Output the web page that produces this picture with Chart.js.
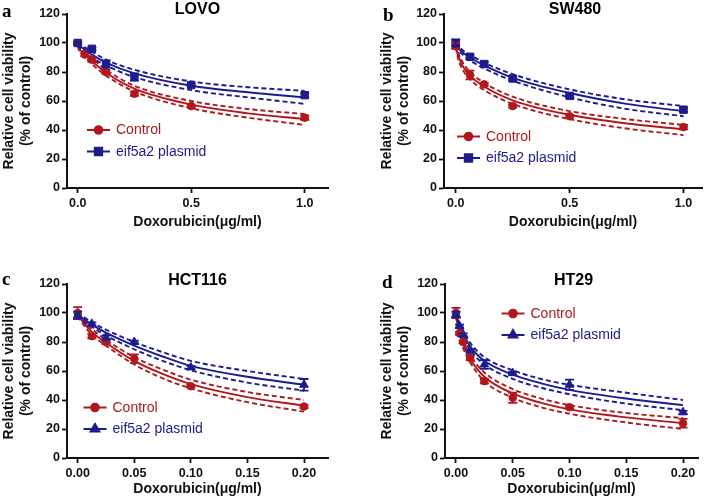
<!DOCTYPE html>
<html><head><meta charset="utf-8">
<script src="https://cdn.jsdelivr.net/npm/chart.js@4/dist/chart.umd.min.js"></script>
<style>
html,body{margin:0;padding:0;background:#fff;}
body{width:709px;height:502px;position:relative;overflow:hidden;}
canvas{position:absolute;display:block;}
</style></head><body>
<canvas id="pa" width="350" height="250" style="left:0;top:0"></canvas>
<canvas id="pb" width="359" height="250" style="left:350px;top:0"></canvas>
<canvas id="pc" width="350" height="252" style="left:0;top:250px"></canvas>
<canvas id="pd" width="359" height="252" style="left:350px;top:250px"></canvas>
<script>
// ---------- DATA ----------
const seriesNames = ['Control', 'eif5a2 plasmid'];
const xAxisTitle = 'Doxorubicin(μg/ml)';
const yAxisTitle = ['Relative cell viability', '(% of control)'];
const yTicks = [0, 20, 40, 60, 80, 100, 120];
const xTicksAB = [0, 0.5, 1.0];
const xTicksCD = [0, 0.05, 0.10, 0.15, 0.20];

// a: LOVO
const lovoDose = [0, 0.03125, 0.0625, 0.125, 0.25, 0.5, 1];
const lovoControl = [100, 92, 88.5, 80, 65, 56.5, 48.5];
const lovoControlErr = [1, 1, 1.5, 1.5, 1.5, 1, 1.5];
const lovoEif = [100, null, 96, 85.5, 76.5, 71, 64];
const lovoEifErr = [1, null, 1, 2.5, 2.5, 1, 1.5];
const fitDoseAB = [0, 0.01, 0.03125, 0.0625, 0.125, 0.25, 0.5, 0.75, 1];
const lovoControlFit = [98.5, 95.5, 92, 87.5, 79.5, 68.5, 57.5, 51.5, 47.5];
const lovoControlHi  = [99.5, 97, 93.5, 89.5, 81.5, 70.5, 60, 54.5, 51];
const lovoControlLo  = [97.5, 94, 90.5, 85.5, 77.5, 66.5, 55, 48.5, 43.5];
const lovoEifFit = [99.5, 98, 95.5, 92, 86.5, 79, 70.5, 66, 62.5];
const lovoEifHi  = [100.5, 99, 97, 94, 88.5, 81.5, 73.5, 69.5, 67];
const lovoEifLo  = [98.5, 97, 94, 90, 84.5, 76.5, 67.5, 62.5, 58];

// b: SW480
const swDose = [0, 0.0625, 0.125, 0.25, 0.5, 1];
const swControl = [98, 78, 71.5, 56.5, 49.5, 42];
const swControlErr = [2, 3, 1, 1, 1, 1.5];
const swEif = [100, 90.5, 85.5, 75.5, 63.5, 54];
const swEifErr = [2.5, 1.5, 1.5, 1.5, 1, 1.5];
const swControlFit = [98, 91.5, 84, 77.5, 70, 60.5, 50.5, 44.5, 40.5];
const swControlHi  = [99, 93.5, 86.5, 80, 72.5, 63, 53, 47.5, 43.5];
const swControlLo  = [97, 89.5, 81.5, 75, 67.5, 58, 47.5, 41, 36.5];
const swEifFit = [99.5, 96.5, 93.5, 90, 84.5, 76, 65.5, 58, 53];
const swEifHi  = [100.5, 98, 95, 92, 86.5, 78.5, 68, 61, 56.5];
const swEifLo  = [98.5, 95, 92, 88, 82.5, 74, 62.5, 54.5, 49.5];

// c: HCT116
const hctDose = [0, 0.0125, 0.025, 0.05, 0.1, 0.2];
const hctControl = [100, 84, 80, 68.5, 49.5, 35.5];
const hctControlErr = [4, 1.5, 1.5, 3, 1, 1];
const hctEif = [98.5, 92.5, 83, 80, 62.5, 50.5];
const hctEifErr = [2.5, 1, 1.5, 1, 1, 4];
const fitDoseC = [0, 0.005, 0.0125, 0.025, 0.05, 0.075, 0.1, 0.15, 0.2];
const hctControlFit = [99, 93.5, 87, 79.5, 67, 58, 51, 42, 36];
const hctControlHi  = [100, 95, 89, 81.5, 69.5, 61, 54, 45.5, 40];
const hctControlLo  = [98, 92, 85, 77.5, 64.5, 55, 48, 38.5, 32];
const hctEifFit = [99.5, 96, 92, 86.5, 77.5, 70, 63.5, 56, 50.5];
const hctEifHi  = [100.5, 97.5, 93.5, 88.5, 80, 73, 67, 60, 54.5];
const hctEifLo  = [98.5, 94.5, 90.5, 84.5, 75, 67, 60.5, 52, 46.5];

// d: HT29
const htDose = [0, 0.003125, 0.00625, 0.0125, 0.025, 0.05, 0.1, 0.2];
const htControl = [100, 86, 80, 69, 53, 41.5, 35, 24];
const htControlErr = [3.5, 1, 1, 1.5, 1.5, 3.5, 1, 3];
const htEif = [99, 91, 85, 74, 64.5, 58.5, 50.5, 31.5];
const htEifErr = [2, 1, 1, 1, 3, 1, 3.5, 1];
const fitDoseD = [0, 0.002, 0.005, 0.0125, 0.025, 0.05, 0.075, 0.1, 0.15, 0.2];
const htControlFit = [99, 89, 81, 68.5, 56, 44.5, 38, 33.5, 28, 24];
const htControlHi  = [100, 91, 83.5, 71, 59, 47.5, 41, 36.5, 31, 27.5];
const htControlLo  = [98, 87, 78.5, 66, 53, 41.5, 35, 30.5, 24.5, 20];
const htEifFit = [99.5, 94, 88, 77, 67, 57.5, 51.5, 47, 41, 36.5];
const htEifHi  = [100.5, 95.5, 90, 79.5, 69.5, 60.5, 54.5, 50.5, 45, 40];
const htEifLo  = [98.5, 92.5, 86, 74.5, 64.5, 54.5, 48.5, 44, 37.5, 33];

// ---------- STYLE ----------
const RED = '#B0181E';
const BLUE = '#1C1C8E';
const AXIS = '#111111';
const SANS = '"Liberation Sans", Arial, Helvetica, sans-serif';

function pts(xs, ys) { return xs.map((x, i) => ({x: x, y: ys[i]})).filter(p => p.y !== null && p.y !== undefined); }

const panelPlugin = {
  id: 'panelDeco',
  afterDatasetsDraw(chart) {
    const o = chart.options.plugins.panelDeco;
    const ctx = chart.ctx;
    const xs = chart.scales.x, ys = chart.scales.y;
    ctx.save();
    o.errors.forEach(e => {
      ctx.strokeStyle = e.color; ctx.lineWidth = 1.8;
      e.xs.forEach((x, i) => {
        const v = e.ys[i], er = e.err[i];
        if (v === null || er === null || er === undefined) return;
        const px = xs.getPixelForValue(x);
        const y1 = ys.getPixelForValue(v + er), y2 = ys.getPixelForValue(v - er);
        ctx.beginPath();
        ctx.moveTo(px, y1); ctx.lineTo(px, y2);
        ctx.moveTo(px - 4.5, y1); ctx.lineTo(px + 4.5, y1);
        ctx.moveTo(px - 4.5, y2); ctx.lineTo(px + 4.5, y2);
        ctx.stroke();
      });
    });
    ctx.restore();
  },
  afterDraw(chart) {
    const o = chart.options.plugins.panelDeco;
    const ctx = chart.ctx;
    const ca = chart.chartArea;
    ctx.save();
    ctx.fillStyle = '#000';
    ctx.font = 'bold 19px "Liberation Serif", "Times New Roman", serif';
    ctx.textAlign = 'left'; ctx.textBaseline = 'alphabetic';
    ctx.fillText(o.letter, o.letterX, o.letterY);
    ctx.font = 'bold 16px ' + SANS;
    ctx.textAlign = 'center'; ctx.textBaseline = 'middle';
    ctx.fillText(o.title, (ca.left + ca.right) / 2 + (o.titleDx || 0), o.titleY);
    ctx.font = '14px ' + SANS;
    ctx.textAlign = 'left';
    o.legend.items.forEach((it, i) => {
      const y = o.legend.y + i * 21.5;
      const x = o.legend.x;
      ctx.strokeStyle = it.color; ctx.lineWidth = 2;
      ctx.beginPath(); ctx.moveTo(x, y); ctx.lineTo(x + 23, y); ctx.stroke();
      ctx.fillStyle = it.color;
      Chart.helpers.drawPoint(ctx, {pointStyle: it.style, radius: it.radius, borderWidth: 1, rotation: 0}, x + 11.5, y);
      ctx.fill();
      ctx.fillStyle = it.color;
      ctx.fillText(it.text, x + 29, y + 0.5);
    });
    ctx.restore();
  }
};

function makePanel(id, c) {
  const ptCommon = {showLine: false, borderWidth: 1};
  const lineCommon = {showLine: true, pointRadius: 0, pointHoverRadius: 0, borderWidth: 1.9, fill: false, cubicInterpolationMode: 'monotone'};
  const eifRadius = c.eifStyle === 'rect' ? 5.2 : 5;
  const datasets = [
    Object.assign({label: seriesNames[1], data: pts(c.dose, c.eif), pointStyle: c.eifStyle, pointRadius: eifRadius, backgroundColor: BLUE, borderColor: BLUE}, ptCommon),
    Object.assign({label: seriesNames[0], data: pts(c.dose, c.control), pointStyle: 'circle', pointRadius: 3.8, backgroundColor: RED, borderColor: RED}, ptCommon),
    Object.assign({label: 'eif fit', data: pts(c.fitDose, c.eifFit), borderColor: BLUE}, lineCommon),
    Object.assign({label: 'eif hi', data: pts(c.fitDose, c.eifHi), borderColor: BLUE, borderDash: [5, 3]}, lineCommon),
    Object.assign({label: 'eif lo', data: pts(c.fitDose, c.eifLo), borderColor: BLUE, borderDash: [5, 3]}, lineCommon),
    Object.assign({label: 'ctrl fit', data: pts(c.fitDose, c.controlFit), borderColor: RED}, lineCommon),
    Object.assign({label: 'ctrl hi', data: pts(c.fitDose, c.controlHi), borderColor: RED, borderDash: [5, 3]}, lineCommon),
    Object.assign({label: 'ctrl lo', data: pts(c.fitDose, c.controlLo), borderColor: RED, borderDash: [5, 3]}, lineCommon)
  ];
  return new Chart(document.getElementById(id), {
    type: 'scatter',
    data: {datasets: datasets},
    plugins: [panelPlugin],
    options: {
      responsive: false, animation: false, devicePixelRatio: 1,
      layout: {padding: {left: 0, right: c.padRight, top: c.padTop, bottom: 0}},
      plugins: {
        legend: {display: false}, tooltip: {enabled: false}, title: {display: false},
        panelDeco: {
          letter: c.letter, letterX: c.letterX, letterY: c.letterY, title: c.title, titleY: c.titleY, titleDx: c.titleDx,
          legend: {x: c.legX, y: c.legY, items: [
            {text: seriesNames[0], color: RED, style: 'circle', radius: 3.8},
            {text: seriesNames[1], color: BLUE, style: c.eifStyle, radius: eifRadius}
          ]},
          errors: [
            {xs: c.dose, ys: c.control, err: c.controlErr, color: RED},
            {xs: c.dose, ys: c.eif, err: c.eifErr, color: BLUE}
          ]
        }
      },
      scales: {
        x: {
          type: 'linear', min: c.xMin, max: c.xMax,
          afterFit: s => { s.height = c.xHeight; },
          afterBuildTicks: s => { s.ticks = c.xTicks.map(v => ({value: v})); },
          grid: {display: true, drawOnChartArea: false, drawTicks: true, tickLength: 5, tickColor: AXIS, tickWidth: 1.8},
          border: {display: true, color: AXIS, width: 2},
          ticks: {color: '#111', padding: 3, maxRotation: 0, autoSkip: false, font: {family: SANS, size: 12.5, weight: 'bold'},
                  callback: v => Number(v).toFixed(c.decimals)},
          title: {display: true, text: xAxisTitle, color: '#111', padding: {top: 0, bottom: c.xTitlePad},
                  font: {family: SANS, size: 14, weight: 'bold', lineHeight: 1.2}}
        },
        y: {
          type: 'linear', min: 0, max: 120,
          afterFit: s => { s.width = c.yWidth; },
          afterBuildTicks: s => { s.ticks = yTicks.map(v => ({value: v})); },
          grid: {display: true, drawOnChartArea: false, drawTicks: true, tickLength: 5, tickColor: AXIS, tickWidth: 1.8},
          border: {display: true, color: AXIS, width: 2},
          ticks: {color: '#111', padding: 2, font: {family: SANS, size: 12.5, weight: 'bold'}, callback: v => String(v)},
          title: {display: true, text: yAxisTitle, color: '#111', padding: {top: c.yTitlePad, bottom: 0},
                  font: {family: SANS, size: 14, weight: 'bold', lineHeight: 1.25}}
        }
      }
    }
  });
}

makePanel('pa', {
  letter: 'a', letterX: 2, letterY: 17, title: 'LOVO', titleY: 10, titleDx: 0,
  dose: lovoDose, control: lovoControl, controlErr: lovoControlErr, eif: lovoEif, eifErr: lovoEifErr,
  fitDose: fitDoseAB, controlFit: lovoControlFit, controlHi: lovoControlHi, controlLo: lovoControlLo,
  eifFit: lovoEifFit, eifHi: lovoEifHi, eifLo: lovoEifLo, eifStyle: 'rect',
  xMin: -0.047, xMax: 1.1025, xTicks: xTicksAB, decimals: 1,
  padRight: 22, padTop: 14, yWidth: 67, xHeight: 62, xTitlePad: 19, yTitlePad: 0,
  legX: 87, legY: 130
});
makePanel('pb', {
  letter: 'b', letterX: 33, letterY: 20.5, title: 'SW480', titleY: 10, titleDx: 2,
  dose: swDose, control: swControl, controlErr: swControlErr, eif: swEif, eifErr: swEifErr,
  fitDose: fitDoseAB, controlFit: swControlFit, controlHi: swControlHi, controlLo: swControlLo,
  eifFit: swEifFit, eifHi: swEifHi, eifLo: swEifLo, eifStyle: 'rect',
  xMin: -0.0514, xMax: 1.081, xTicks: xTicksAB, decimals: 1,
  padRight: 7, padTop: 14, yWidth: 94, xHeight: 62, xTitlePad: 19, yTitlePad: 28,
  legX: 107, legY: 136.5
});
makePanel('pc', {
  letter: 'c', letterX: 2, letterY: 35, title: 'HCT116', titleY: 30.5, titleDx: 0,
  dose: hctDose, control: hctControl, controlErr: hctControlErr, eif: hctEif, eifErr: hctEifErr,
  fitDose: fitDoseC, controlFit: hctControlFit, controlHi: hctControlHi, controlLo: hctControlLo,
  eifFit: hctEifFit, eifHi: hctEifHi, eifLo: hctEifLo, eifStyle: 'triangle',
  xMin: -0.00944, xMax: 0.2212, xTicks: xTicksCD, decimals: 2,
  padRight: 22, padTop: 34, yWidth: 67, xHeight: 44, xTitlePad: 4, yTitlePad: 0,
  legX: 83.5, legY: 157.5
});
makePanel('pd', {
  letter: 'd', letterX: 32, letterY: 37.5, title: 'HT29', titleY: 30.5, titleDx: 2,
  dose: htDose, control: htControl, controlErr: htControlErr, eif: htEif, eifErr: htEifErr,
  fitDose: fitDoseD, controlFit: htControlFit, controlHi: htControlHi, controlLo: htControlLo,
  eifFit: htEifFit, eifHi: htEifHi, eifLo: htEifLo, eifStyle: 'triangle',
  xMin: -0.00968, xMax: 0.2132, xTicks: xTicksCD, decimals: 2,
  padRight: 11, padTop: 34, yWidth: 95, xHeight: 44, xTitlePad: 4, yTitlePad: 28,
  legX: 151.5, legY: 63.5
});
</script>
</body></html>
